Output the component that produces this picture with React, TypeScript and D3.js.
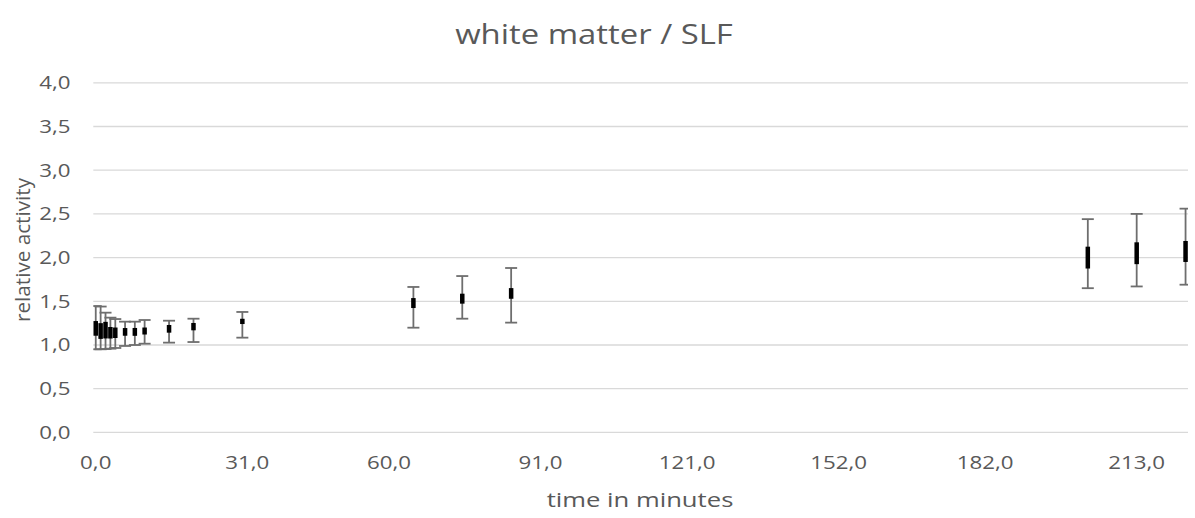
import React from "react";
import * as d3 from "d3";

// Sampling times (minutes) and relative activity per time point
const times = [0, 1, 2, 3, 4, 6, 8, 10, 15, 20, 30, 65, 75, 85, 203, 213, 223];
const means = [1.19, 1.16, 1.17, 1.14, 1.14, 1.15, 1.15, 1.16, 1.185, 1.21, 1.27, 1.48, 1.53, 1.59, 2.0, 2.05, 2.07];
// Standard deviation range (upper / lower ends)
const sdUpper = [1.446, 1.44, 1.37, 1.313, 1.297, 1.267, 1.267, 1.286, 1.278, 1.301, 1.378, 1.664, 1.789, 1.881, 2.44, 2.5, 2.56];
const sdLower = [0.951, 0.951, 0.954, 0.958, 0.966, 0.989, 1.0, 1.015, 1.027, 1.034, 1.084, 1.198, 1.301, 1.256, 1.65, 1.67, 1.69];
// Standard error of the mean (half-width)
const sem = [0.084, 0.09, 0.095, 0.066, 0.06, 0.044, 0.045, 0.04, 0.044, 0.042, 0.03, 0.057, 0.057, 0.061, 0.125, 0.125, 0.12];

const xTicks = [0, 31, 60, 91, 121, 152, 182, 213];
const yTicks = [0, 0.5, 1, 1.5, 2, 2.5, 3, 3.5, 4];

const title = "white matter / SLF";
const xTitle = "time in minutes";
const yTitle = "relative activity";

const W = 1195;
const H = 518;
const FONT = "'Open Sans', 'Liberation Sans', sans-serif";
const TEXT = "#595959";
// horizontal text is drawn slightly widened
const SX = 1.24;

function HText(props: {
  x: number;
  y: number;
  size: number;
  anchor?: "start" | "middle" | "end";
  dy?: string;
  children: React.ReactNode;
}) {
  return (
    <text
      transform={`translate(${props.x},${props.y}) scale(${SX},1)`}
      dy={props.dy}
      textAnchor={props.anchor ?? "middle"}
      fontSize={props.size}
      fill={TEXT}
    >
      {props.children}
    </text>
  );
}

export default function App() {
  const x = d3.scaleLinear().domain([-0.5, 223.5]).range([93.3, 1188]);
  const y = d3.scaleLinear().domain([0, 4]).range([432.4, 82.8]);
  const fmt = (v: number) => d3.format(".1f")(v).replace(".", ",");
  const cap = 6;

  return (
    <svg
      width={W}
      height={H}
      style={{ position: "absolute", left: 0, top: 0, background: "#fff" }}
      fontFamily={FONT}
    >
      <rect width={W} height={H} fill="#fff" />
      <HText x={594} y={44} size={26.5}>
        {title}
      </HText>

      {/* horizontal gridlines */}
      {yTicks.map((t) => (
        <line key={t} x1={x.range()[0]} x2={x.range()[1]} y1={y(t)} y2={y(t)} stroke="#d9d9d9" strokeWidth={1.3} />
      ))}

      {/* y tick labels */}
      {yTicks.map((t) => (
        <HText key={t} x={70.5} y={y(t)} dy="0.36em" anchor="end" size={18}>
          {fmt(t)}
        </HText>
      ))}

      {/* x tick labels */}
      {xTicks.map((t) => (
        <HText key={t} x={x(t)} y={469} size={18}>
          {fmt(t)}
        </HText>
      ))}

      <HText x={640} y={507} size={20.7}>
        {xTitle}
      </HText>
      <text
        transform={`translate(30,250) rotate(-90)`}
        textAnchor="middle"
        fontSize={20.7}
        fill={TEXT}
      >
        {yTitle}
      </text>

      {/* SD error bars */}
      <g stroke="#6e6e6e" strokeWidth={1.8}>
        {times.map((t, i) => {
          const cx = x(t);
          const x0 = Math.max(cx - cap, x.range()[0]);
          const x1 = Math.min(cx + cap, x.range()[1]);
          return (
            <g key={i}>
              <line x1={cx} x2={cx} y1={y(sdUpper[i])} y2={y(sdLower[i])} />
              <line x1={x0} x2={x1} y1={y(sdUpper[i])} y2={y(sdUpper[i])} />
              <line x1={x0} x2={x1} y1={y(sdLower[i])} y2={y(sdLower[i])} />
            </g>
          );
        })}
      </g>

      {/* SEM bars */}
      {times.map((t, i) => (
        <rect
          key={i}
          x={x(t) - 2.25}
          width={4.5}
          y={y(means[i] + sem[i])}
          height={y(means[i] - sem[i]) - y(means[i] + sem[i])}
          fill="#000"
        />
      ))}
    </svg>
  );
}
